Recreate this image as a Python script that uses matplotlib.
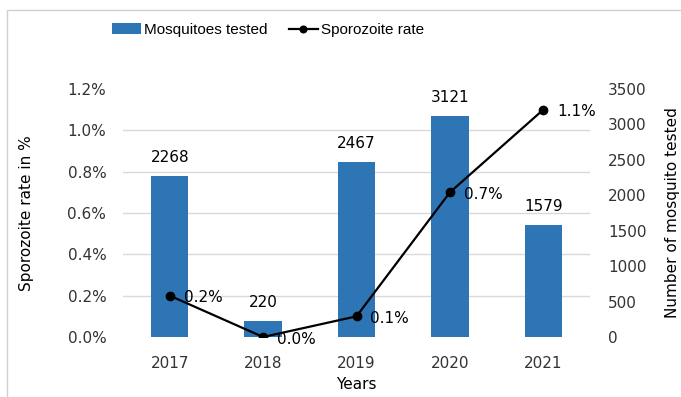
import matplotlib.pyplot as plt
from matplotlib.patches import Rectangle

years = ['2017', '2018', '2019', '2020', '2021']
mosquitoes = [2268, 220, 2467, 3121, 1579]
rate = [0.2, 0.0, 0.1, 0.7, 1.1]
rate_labels = ['0.2%', '0.0%', '0.1%', '0.7%', '1.1%']
left_ticks = [0, 0.2, 0.4, 0.6, 0.8, 1.0, 1.2]
left_ticklabels = ['0.0%', '0.2%', '0.4%', '0.6%', '0.8%', '1.0%', '1.2%']

plt.rcParams['font.family'] = 'DejaVu Sans'
plt.rcParams['font.size'] = 10.5

fig = plt.figure(figsize=(6.81, 3.97), dpi=100)
fig.patches.append(Rectangle((0.01, -0.1), 1.2, 1.1 - 10 / 397, transform=fig.transFigure,
                             fill=False, edgecolor='#d0d0d0', linewidth=1))
ax = fig.add_axes([123 / 681, 1 - 337 / 397, (590 - 123) / 681, (337 - 89) / 397])
ax2 = ax.twinx()

x = list(range(len(years)))
bars = ax2.bar(x, mosquitoes, width=0.4, color='#2e75b6', zorder=2)
ax2.set_ylim(0, 3500)
ax2.set_yticks(range(0, 3501, 500))
# gridlines follow the left (percent) axis but sit behind the bars
ax2.set_yticks([t / 1.2 * 3500 for t in left_ticks], minor=True)
ax2.yaxis.grid(True, which='minor', color='#d9d9d9', linewidth=1, zorder=0)
ax2.yaxis.grid(False, which='major')
ax2.set_axisbelow(True)
for xi, v in zip(x, mosquitoes):
    ax2.annotate(str(v), (xi, v), xytext=(0, 8), textcoords='offset points',
                 ha='center', va='bottom', fontsize=11)
ax2.set_ylabel('Number of mosquito tested', fontsize=11, labelpad=13)

line, = ax.plot(x, rate, color='black', marker='o', markersize=6, linewidth=1.6, zorder=3)
for xi, v, lab in zip(x, rate, rate_labels):
    ax.annotate(lab, (xi, v), xytext=(10, -1.5), textcoords='offset points',
                ha='left', va='center', fontsize=11)
ax.set_ylim(0, 1.2)
ax.set_yticks(left_ticks)
ax.set_yticklabels(left_ticklabels)
ax.set_xlim(-0.5, 4.5)
ax.set_xticks(x)
ax.set_xticklabels(years)
ax.set_xlabel('Years', fontsize=11, labelpad=4)
ax.set_ylabel('Sporozoite rate in %', fontsize=11, labelpad=24)

ax.set_zorder(ax2.get_zorder() + 1)
ax.patch.set_visible(False)

for a in (ax, ax2):
    for s in a.spines.values():
        s.set_visible(False)
    a.tick_params(length=0, labelsize=11, colors='#333333')
    a.tick_params(which='minor', length=0)
ax.tick_params(axis='y', pad=12)
ax2.tick_params(axis='y', pad=13)
ax.tick_params(axis='x', pad=14)

fig.legend([bars, line], ['Mosquitoes tested', 'Sporozoite rate'], loc='center',
           bbox_to_anchor=(268 / 681, 1 - 30 / 397), ncol=2, frameon=False,
           prop={'family': 'Liberation Sans', 'size': 11},
           handlelength=1.9, columnspacing=1.4, handletextpad=0.2, markerscale=0.8)

fig.savefig('out.png', dpi=100)
